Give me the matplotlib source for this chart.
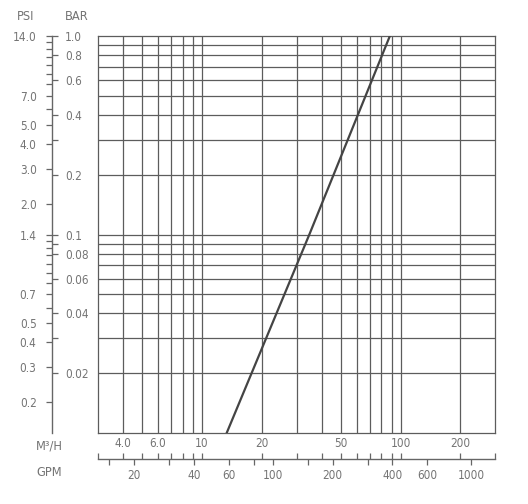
import matplotlib
matplotlib.use("Agg")
import matplotlib.pyplot as plt
from matplotlib.ticker import FixedLocator, FixedFormatter, NullLocator

# 压降曲线
flow_m3h = [13.3, 34.7, 88.3]
pressure_bar = [0.01, 0.1, 1.0]

# 坐标范围
x_min, x_max = 3, 300
y_min, y_max = 0.01, 1.0
gpm_per_m3h = 4.403
psi_per_bar = 14.0

# 刻度
grid_x = [4, 5, 6, 7, 8, 9, 10, 20, 30, 40, 50, 60, 70, 80, 90, 100, 200]
grid_y = [0.02, 0.03, 0.04, 0.05, 0.06, 0.07, 0.08, 0.09, 0.1,
          0.2, 0.3, 0.4, 0.5, 0.6, 0.7, 0.8, 0.9]
m3h_ticks = [3, 4, 5, 6, 7, 8, 9, 10, 20, 30, 40, 50, 60, 70, 80, 90, 100, 200, 300]
m3h_labels = {4: "4.0", 6: "6.0", 10: "10", 20: "20", 50: "50", 100: "100", 200: "200"}
gpm_ticks = [15, 20, 30, 40, 60, 80, 100, 150, 200, 300, 400, 600, 1000]
gpm_labels = {20: "20", 40: "40", 60: "60", 100: "100", 200: "200", 400: "400",
              600: "600", 1000: "1000"}
psi_ticks = [14, 13, 12, 11, 10, 9, 8, 7, 6, 5, 4, 3, 2, 1.4, 1.3, 1.2, 1.1,
             1.0, 0.9, 0.8, 0.7, 0.6, 0.5, 0.4, 0.3, 0.2]
psi_labels = {14: "14.0", 7: "7.0", 5: "5.0", 4: "4.0", 3: "3.0", 2: "2.0",
              1.4: "1.4", 0.7: "0.7", 0.5: "0.5", 0.4: "0.4", 0.3: "0.3", 0.2: "0.2"}
bar_ticks = [1.0, 0.8, 0.6, 0.4, 0.3, 0.2, 0.1, 0.09, 0.08, 0.06, 0.04, 0.03, 0.02]
bar_labels = {1.0: "1.0", 0.8: "0.8", 0.6: "0.6", 0.4: "0.4", 0.2: "0.2", 0.1: "0.1",
              0.08: "0.08", 0.06: "0.06", 0.04: "0.04", 0.02: "0.02"}

plt.rcParams['font.family'] = ['DejaVu Sans']
plt.rcParams['font.stretch'] = 'condensed'

W, H = 528, 504
txt_c = '#747474'
ax_c = '#666666'
grid_c = '#5c5c5c'
fs_tick = 8.5
fs_head = 9.2

fig = plt.figure(figsize=(W / 100, H / 100), dpi=100)

L, R, T, B = 98.3, 495.3, 36, 433
ax = fig.add_axes([L / W, 1 - B / H, (R - L) / W, (B - T) / H])
ax.set_xscale('log')
ax.set_yscale('log')
ax.set_xlim(x_min, x_max)
ax.set_ylim(y_min, y_max)
for v in grid_x:
    ax.axvline(v, color=grid_c, lw=0.9, zorder=1)
for v in grid_y:
    ax.axhline(v, color=grid_c, lw=0.9, zorder=1)
ax.plot(flow_m3h, pressure_bar, color='#444444', lw=1.6, zorder=3)
for s in ax.spines.values():
    s.set_color(grid_c)
    s.set_linewidth(0.9)
ax.xaxis.set_major_locator(NullLocator())
ax.xaxis.set_minor_locator(NullLocator())
ax.yaxis.set_major_locator(NullLocator())
ax.yaxis.set_minor_locator(NullLocator())

# 左侧 PSI / BAR 刻度
xs = 52.3
eps = 0.001
ax_psi = fig.add_axes([xs / W, 1 - B / H, eps, (B - T) / H])
ax_bar = fig.add_axes([xs / W - eps, 1 - B / H, eps, (B - T) / H])
for a in (ax_psi, ax_bar):
    a.set_yscale('log')
    a.set_ylim(y_min, y_max)
    a.patch.set_visible(False)
    a.set_xticks([])
    for s in a.spines.values():
        s.set_visible(False)
    a.yaxis.set_minor_locator(NullLocator())
ax_psi.spines['left'].set_visible(True)
ax_psi.spines['left'].set_color(ax_c)
ax_psi.spines['left'].set_linewidth(1.0)
pos = [p / psi_per_bar for p in psi_ticks]
ax_psi.yaxis.set_major_locator(FixedLocator(pos))
ax_psi.yaxis.set_major_formatter(FixedFormatter([psi_labels.get(p, "") for p in psi_ticks]))
ax_psi.tick_params(axis='y', which='major', direction='out', length=4.3, width=0.9,
                   color=ax_c, labelcolor=txt_c, labelsize=fs_tick, pad=7)

ax_bar.yaxis.tick_right()
ax_bar.yaxis.set_major_locator(FixedLocator(bar_ticks))
ax_bar.yaxis.set_major_formatter(FixedFormatter([bar_labels.get(b, "") for b in bar_ticks]))
ax_bar.tick_params(axis='y', which='major', direction='out', length=4.3, width=0.9,
                   color=ax_c, labelcolor=txt_c, labelsize=fs_tick, pad=5)

# 底部 M3/H / GPM 刻度
yl = 459
ax_m = fig.add_axes([L / W, 1 - yl / H - eps, (R - L) / W, eps])
ax_g = fig.add_axes([L / W, 1 - yl / H, (R - L) / W, eps])
for a in (ax_m, ax_g):
    a.set_xscale('log')
    a.patch.set_visible(False)
    a.set_yticks([])
    for s in a.spines.values():
        s.set_visible(False)
    a.xaxis.set_minor_locator(NullLocator())
ax_m.set_xlim(x_min, x_max)
ax_g.set_xlim(x_min * gpm_per_m3h, x_max * gpm_per_m3h)

ax_m.spines['top'].set_visible(True)
ax_m.spines['top'].set_color(ax_c)
ax_m.spines['top'].set_linewidth(1.0)
ax_m.xaxis.tick_top()
ax_m.xaxis.set_major_locator(FixedLocator(m3h_ticks))
ax_m.xaxis.set_major_formatter(FixedFormatter([m3h_labels.get(v, "") for v in m3h_ticks]))
ax_m.tick_params(axis='x', which='major', direction='out', length=4.3, width=0.9,
                 color=ax_c, labelcolor=txt_c, labelsize=fs_tick, pad=2)

ax_g.xaxis.tick_bottom()
ax_g.xaxis.set_major_locator(FixedLocator(gpm_ticks))
ax_g.xaxis.set_major_formatter(FixedFormatter([gpm_labels.get(v, "") for v in gpm_ticks]))
ax_g.tick_params(axis='x', which='major', direction='out', length=4.3, width=0.9,
                 color=ax_c, labelcolor=txt_c, labelsize=fs_tick, pad=3)

# 轴标题
fig.text(26 / W, 1 - 17 / H, "PSI", ha='center', va='center', color=txt_c, fontsize=fs_head)
fig.text(77 / W, 1 - 17 / H, "BAR", ha='center', va='center', color=txt_c, fontsize=fs_head)
fig.text(49 / W, 1 - 446 / H, "M³/H", ha='center', va='center', color=txt_c, fontsize=fs_head)
fig.text(49 / W, 1 - 473 / H, "GPM", ha='center', va='center', color=txt_c, fontsize=fs_head)

fig.savefig("out.png", dpi=100)
